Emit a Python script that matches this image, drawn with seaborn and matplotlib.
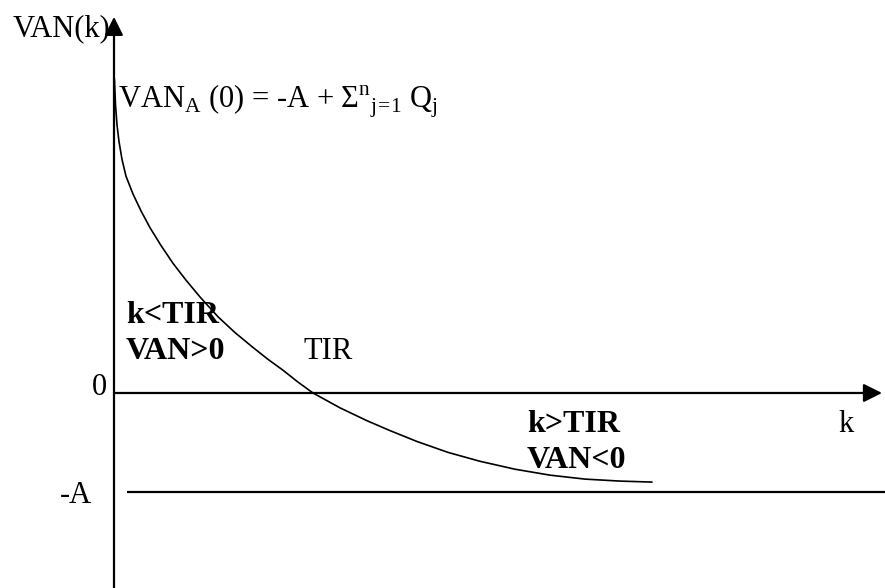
import numpy as np
import pandas as pd
import matplotlib
matplotlib.use("Agg")
import matplotlib.pyplot as plt
import seaborn as sns

# Datos de la curva VAN(k) (k en %, VAN en unidades de A)
k_valores = [0.0, 0.05, 0.15, 0.3, 0.5, 0.8, 1.2, 1.9, 2.7, 3.6, 4.7, 5.9, 7.2, 8.6,
             10.4, 12.1, 13.9, 15.4, 16.9, 18.4, 19.9, 22.6, 25.3, 27.6, 30.3, 33.4,
             36.6, 40.1, 43.6, 47.1, 50.6, 53.8]
van_valores = [3.20, 3.16, 2.91, 2.71, 2.54, 2.36, 2.19, 2.01, 1.84, 1.67, 1.49, 1.31,
               1.14, 0.97, 0.77, 0.61, 0.46, 0.34, 0.23, 0.11, 0.0, -0.15, -0.28,
               -0.38, -0.49, -0.60, -0.69, -0.77, -0.83, -0.87, -0.89, -0.90]

# Niveles de referencia
inversion = -1.0          # -A
tir = 19.9                # donde VAN = 0

# Límites de la figura (en unidades de los datos)
x_min, x_max = -11.4, 77.1
y_min, y_max = -1.97, 3.97
fin_eje_x = 76.8
fin_eje_y = 3.80
inicio_linea_a = 1.3


def graficoVAN():
    sns.set_style("white")
    plt.rcParams['font.family'] = ['Liberation Serif', 'DejaVu Serif']
    plt.rcParams['mathtext.fontset'] = 'custom'
    plt.rcParams['mathtext.rm'] = 'Liberation Serif'
    plt.rcParams['text.color'] = 'black'

    df = pd.DataFrame({'k': k_valores, 'VAN': van_valores})

    fig = plt.figure(figsize=(8.85, 5.88), dpi=100)
    ax = fig.add_axes([0, 0, 1, 1])
    ax.set_xlim(x_min, x_max)
    ax.set_ylim(y_min, y_max)
    ax.axis('off')

    # Curva VAN(k)
    sns.lineplot(data=df, x='k', y='VAN', sort=False, color='black', lw=1.2, ax=ax)

    # Ejes con flecha
    flecha = dict(arrowstyle='-|>', color='black', lw=1.6, mutation_scale=28,
                  shrinkA=0, shrinkB=0)
    ax.annotate('', xy=(0, fin_eje_y), xytext=(0, y_min), arrowprops=flecha)
    ax.annotate('', xy=(fin_eje_x, 0), xytext=(0, 0), arrowprops=flecha)

    # Línea horizontal en -A
    ax.hlines(inversion, inicio_linea_a, x_max, color='black', lw=1.6)

    # Textos
    tam = 22
    tam_neg = 23
    ax.text(-10.1, 3.60, 'VAN(k)', fontsize=tam, va='baseline')
    ax.text(0.4, 2.88,
            r'VAN$_{\mathregular{A}}$ (0) = -A + Σ$^{\mathregular{n}}$'
            r'${}_{\mathregular{j\!=\!1}}$ Q$_{\mathregular{j}}$',
            fontsize=tam, va='baseline')
    ax.text(1.2, 0.71, 'k<TIR', fontsize=tam_neg, fontweight='bold', va='baseline')
    ax.text(1.2, 0.34, 'VAN>0', fontsize=tam_neg, fontweight='bold', va='baseline')
    ax.text(tir - 1.0, 0.34, 'TIR', fontsize=tam, va='baseline')
    ax.text(-0.7, -0.02, '0', fontsize=tam, ha='right', va='baseline')
    ax.text(41.3, -0.39, 'k>TIR', fontsize=tam_neg, fontweight='bold', va='baseline')
    ax.text(41.3, -0.76, 'VAN<0', fontsize=tam_neg, fontweight='bold', va='baseline')
    ax.text(72.4, -0.39, 'k', fontsize=tam, va='baseline')
    ax.text(-2.2, -1.11, '-A', fontsize=tam, ha='right', va='baseline')

    fig.savefig('out.png', dpi=100)


graficoVAN()
